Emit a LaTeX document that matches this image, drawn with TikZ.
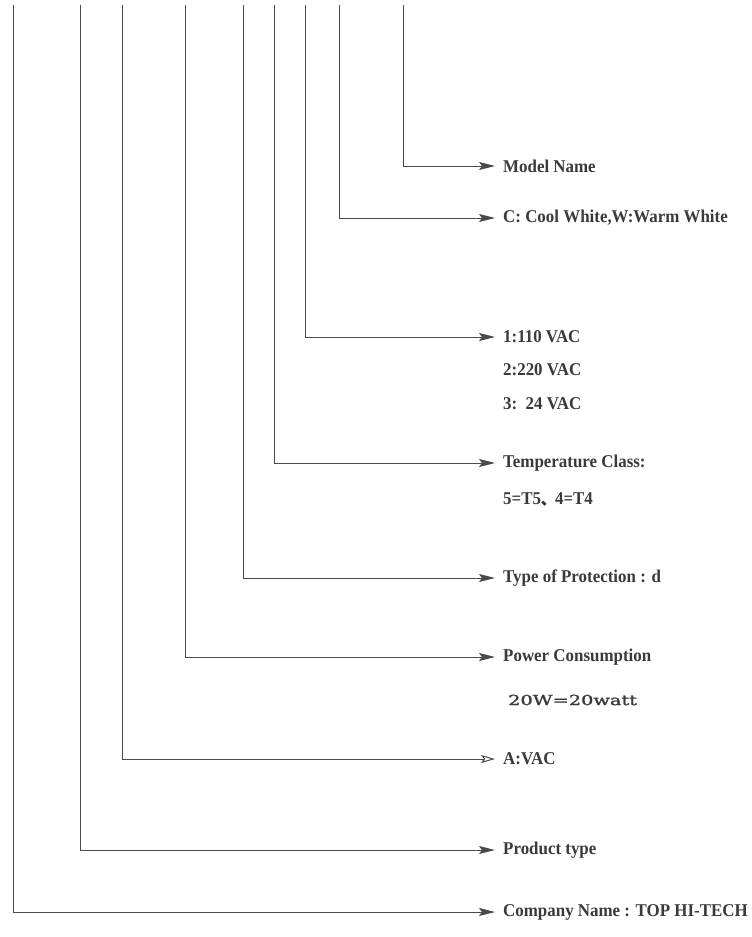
\documentclass[tikz,border=0pt]{standalone}
\usepackage{fontspec}
\usetikzlibrary{arrows.meta}
\newfontfamily\labfont{Liberation Serif}[FakeStretch=0.94]
\newfontfamily\wattfont{DejaVu Serif}[FakeBold=1.5]
\newfontfamily\cjkfont{Noto Sans CJK SC}[FakeBold=2]
\definecolor{linecol}{HTML}{4A4A4A}
\definecolor{textcol}{HTML}{3A3A3A}
\begin{document}
\begin{tikzpicture}[x=1pt,y=-1pt,
  conn/.style={draw=linecol,line width=1pt,-{Stealth[length=16pt,width=8pt,inset=3pt]}},
  connopen/.style={draw=linecol,line width=1pt,-{Stealth[length=14pt,width=8pt,inset=3pt,open]}},
  lab/.style={anchor=west,inner xsep=8pt,inner ysep=0pt,text=textcol,font=\labfont\bfseries\fontsize{18}{20}\selectfont},
  watt/.style={anchor=west,inner xsep=13pt,inner ysep=0pt,text=textcol,font=\wattfont\fontsize{14}{16}\selectfont}]
\useasboundingbox (0,0) rectangle (752,937);
% top ends of the vertical lines
\coordinate (t1) at (403,5);
\coordinate (t2) at (339,5);
\coordinate (t3) at (305,5);
\coordinate (t4) at (274,5);
\coordinate (t5) at (243,5);
\coordinate (t6) at (185,5);
\coordinate (t7) at (122,5);
\coordinate (t8) at (80,5);
\coordinate (t9) at (13,5);
% labels
\node[lab] (n1) at (495,166) {Model Name};
\node[lab] (n2) at (495,218) {C: Cool White,W:Warm White};
\node[lab] (n3) at (495,337) {1:110 VAC};
\node[lab] (n3b) at (495,370) {2:220 VAC};
\node[lab] (n3c) at (495,404) {3:\ \ 24 VAC};
\node[lab] (n4) at (495,463) {Temperature Class:};
\node[lab] (n4b) at (495,499) {5=T5{\cjkfont\fontsize{14}{16}\selectfont 、}4=T4};
\node[lab] (n5) at (495,578) {Type of Protection : d};
\node[lab] (n6) at (495,657) {Power Consumption};
\node[watt] (n6b) at (495,700) {\scalebox{1.38}[1]{20W=20watt}};
\node[lab] (n7) at (495,759) {A:VAC};
\node[lab] (n8) at (495,850) {Product type};
\node[lab] (n9) at (495,912) {Company Name : TOP HI-TECH};
% connectors
\draw[conn] (t1) |- (n1.west);
\draw[conn] (t2) |- (n2.west);
\draw[conn] (t3) |- (n3.west);
\draw[conn] (t4) |- (n4.west);
\draw[conn] (t5) |- (n5.west);
\draw[conn] (t6) |- (n6.west);
\draw[connopen] (t7) |- (n7.west);
\draw[conn] (t8) |- (n8.west);
\draw[conn] (t9) |- (n9.west);
\end{tikzpicture}
\end{document}
